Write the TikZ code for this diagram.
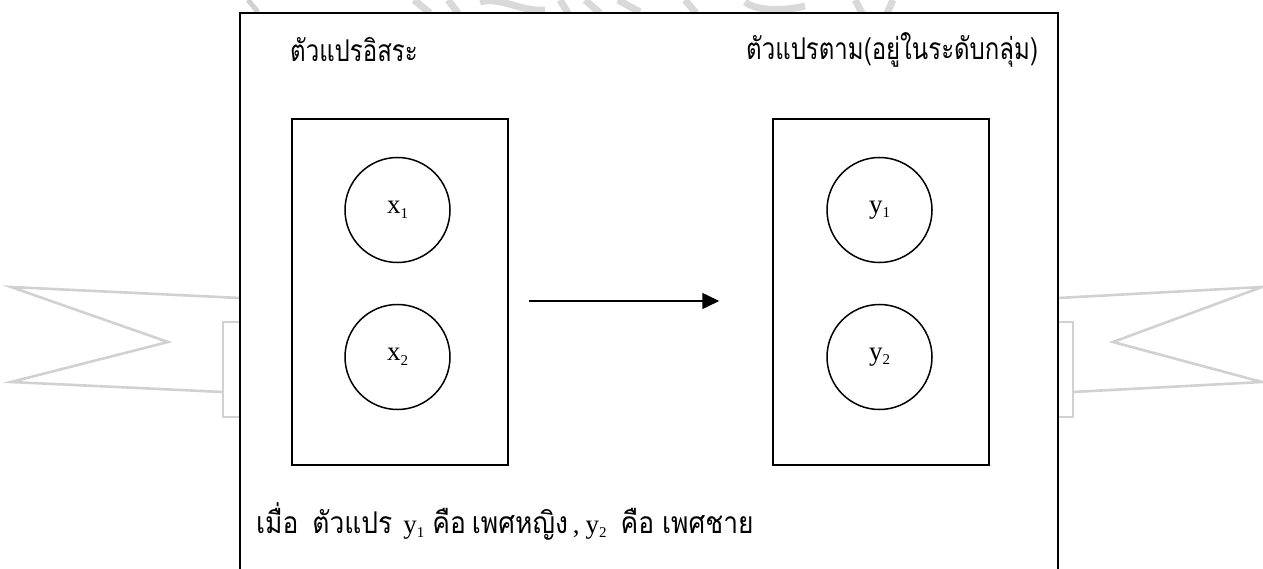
\documentclass[tikz,border=0pt]{standalone}
\usepackage{fontspec}
\setmainfont{Liberation Serif}
\newfontfamily\thaifont[Script=Thai]{Loma}
\usetikzlibrary{arrows.meta}
\newcommand{\thai}[1]{{\thaifont\scalebox{0.8}[1]{#1}}}
\newcommand{\thaiw}[1]{{\thaifont\scalebox{0.88}[1]{#1}}}
\newcommand{\sub}[1]{\raisebox{-4.5pt}{\fontsize{15}{15}\selectfont #1}}

\begin{document}
\begin{tikzpicture}[x=1pt,y=-1pt,
  frameline/.style={line width=1.8pt},
  varbox/.style={draw, line width=1.5pt, minimum width=216pt, minimum height=346pt, inner sep=0pt},
  varcirc/.style={draw, circle, line width=1.5pt, minimum size=105pt, inner sep=0pt,
                  font=\fontsize{27}{27}\selectfont},
  wm/.style={draw=black!18, line width=2.6pt, line join=miter},
  wmthick/.style={draw=black!15, line width=7pt},
  label/.style={font=\fontsize{30}{34}\selectfont, inner sep=0pt}
]
\useasboundingbox (0,0) rectangle (1263,569);

% faint background emblem
\draw[wm] (240,298) -- (11,287) -- (168,342) -- (11,382) -- (223,392);
\draw[wm] (240,322) -- (223,322) -- (223,417) -- (240,417);
\draw[wm] (1058,298) -- (1262,287) -- (1113,342) -- (1262,382) -- (1073,392);
\draw[wm] (1058,322) -- (1073,322) -- (1073,417) -- (1058,417);
\draw[wmthick] (414,0) -- (430,13);
\draw[wmthick] (448,0) -- (458,13);
\draw[wmthick] (480,2) .. controls (500,-4) and (520,12) .. (545,10);
\draw[wmthick] (560,0) -- (568,13);
\draw[wmthick] (585,0) -- (600,13);
\draw[wmthick] (618,0) -- (640,12);
\draw[wmthick] (685,0) -- (696,13);
\draw[wmthick] (745,2) .. controls (755,10) and (780,12) .. (805,6);
\draw[wmthick] (855,0) -- (862,13);
\draw[wmthick] (893,0) -- (887,13);
\draw[wm, line width=5pt] (248,0) -- (258,12);

% main frame, open at the bottom
\fill[white] (240,13) rectangle (1058,569);
\draw[frameline] (240,569) -- (240,13) -- (1058,13) -- (1058,569);

% headings
\node[label, anchor=west] (lhead) at (290,50) {\thai{ตัวแปรอิสระ}};
\node[label, anchor=west] (rhead) at (746,50) {\thai{ตัวแปรตาม(อยู่ในระดับกลุ่ม)}};

% variable groups
\node[varbox] (lbox) at (400,292) {};
\node[varbox] (rbox) at (881,292) {};

\node[varcirc] (x1) at (397.5,210) {x\sub{1}};
\node[varcirc] (x2) at (397.5,357) {x\sub{2}};
\node[varcirc] (y1) at (879.5,210) {y\sub{1}};
\node[varcirc] (y2) at (879.5,357) {y\sub{2}};

% relation
\draw[line width=1.5pt, -{Triangle[length=17pt,width=16pt]},
      shorten <=20pt, shorten >=53pt]
  ([yshift=-9pt]lbox.east) -- ([yshift=-9pt]rbox.west);

% note
\node[label, anchor=base west] (note) at (256,533)
  {\thaiw{เมื่อ}\hspace{14pt}\thaiw{ตัวแปร}\hspace{11pt}{\fontsize{27}{27}\selectfont y\sub{1}}\hspace{8pt}\thaiw{คือ}\hspace{6pt}\thaiw{เพศหญิง}\hspace{5pt}{\fontsize{27}{27}\selectfont,\hspace{6pt}y\sub{2}}\hspace{14pt}\thaiw{คือ}\hspace{8pt}\thaiw{เพศชาย}};
\end{tikzpicture}
\end{document}
